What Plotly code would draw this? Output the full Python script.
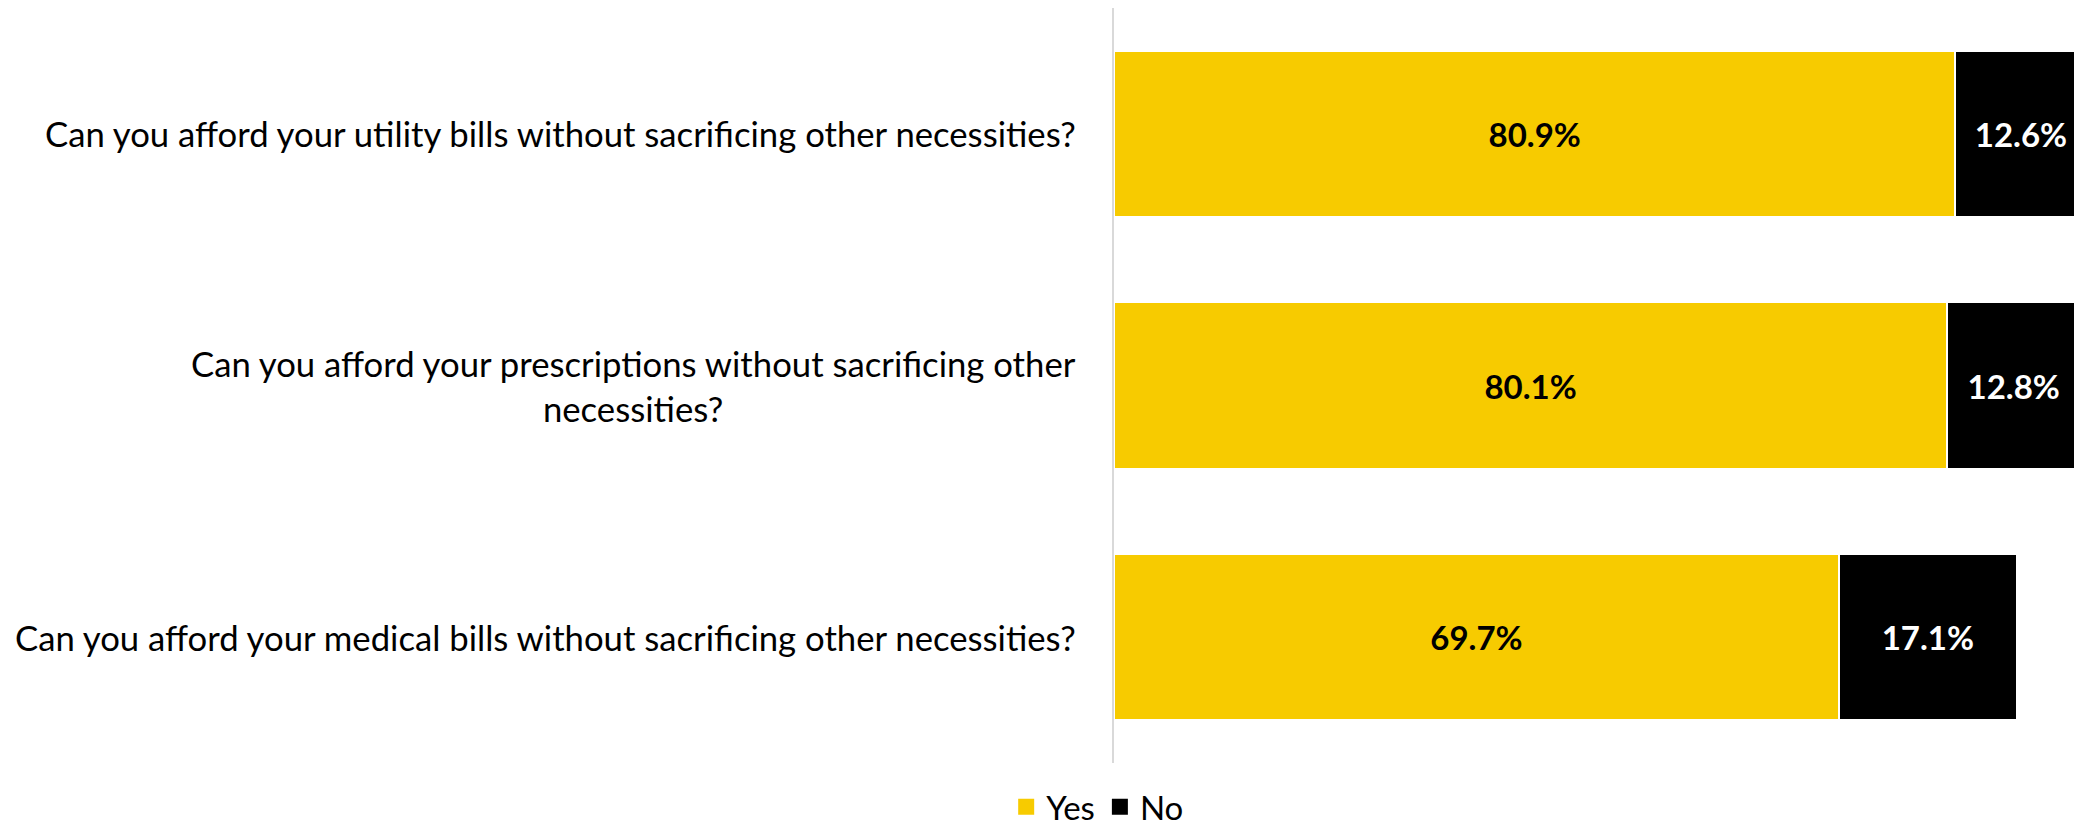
import plotly.graph_objects as go

categories = [
    "Can you afford your utility bills without sacrificing other necessities?",
    "Can you afford your prescriptions without sacrificing other<br>necessities?",
    "Can you afford your medical bills without sacrificing other necessities?",
]
yes_values = [80.9, 80.1, 69.7]
no_values = [12.6, 12.8, 17.1]
series_names = ["Yes", "No"]

YELLOW = "#F7CB00"
FONT = "Lato"
colors = [YELLOW, "black"]
text_colors = ["black", "white"]

fig = go.Figure()
for name, vals, col, tcol in zip(series_names, [yes_values, no_values], colors, text_colors):
    fig.add_trace(go.Bar(
        y=categories, x=vals, name=name, orientation="h", showlegend=False,
        marker=dict(color=col, line=dict(color="white", width=2)),
        text=[f"{v:.1f}%" for v in vals], textposition="inside",
        insidetextanchor="middle",
        textfont=dict(family=FONT, size=33, color=tcol, weight="bold"),
    ))
# legend entries with larger square swatches
for name, col in zip(series_names, colors):
    fig.add_trace(go.Scatter(
        x=[None], y=[None], mode="markers", name=name,
        marker=dict(symbol="square", size=17, color=col),
    ))

for c in categories:
    fig.add_annotation(
        x=-0.0375, xref="paper", y=c, yref="y", text=c, showarrow=False,
        xanchor="right", yanchor="middle", align="center",
        font=dict(family=FONT, size=34.7, color="black"),
    )

fig.update_layout(
    width=2066, height=821,
    margin=dict(l=1106, r=0, t=0, b=66, autoexpand=False),
    barmode="stack", bargap=0.34,
    plot_bgcolor="white", paper_bgcolor="white",
    font=dict(family=FONT, size=33, color="black"),
    uniformtext=dict(mode="show", minsize=10),
    xaxis=dict(range=[0, 92.3], visible=False, showgrid=False, zeroline=False),
    yaxis=dict(categoryorder="array", categoryarray=categories[::-1],
               showticklabels=False, showgrid=False, zeroline=False,
               showline=True, linecolor="#D9D9D9", linewidth=2),
    legend=dict(orientation="h", x=-0.017, xanchor="center", y=-0.058,
                yanchor="middle", font=dict(family=FONT, size=33),
                itemwidth=30, traceorder="normal"),
    showlegend=True,
)

fig.write_html("out.html")
